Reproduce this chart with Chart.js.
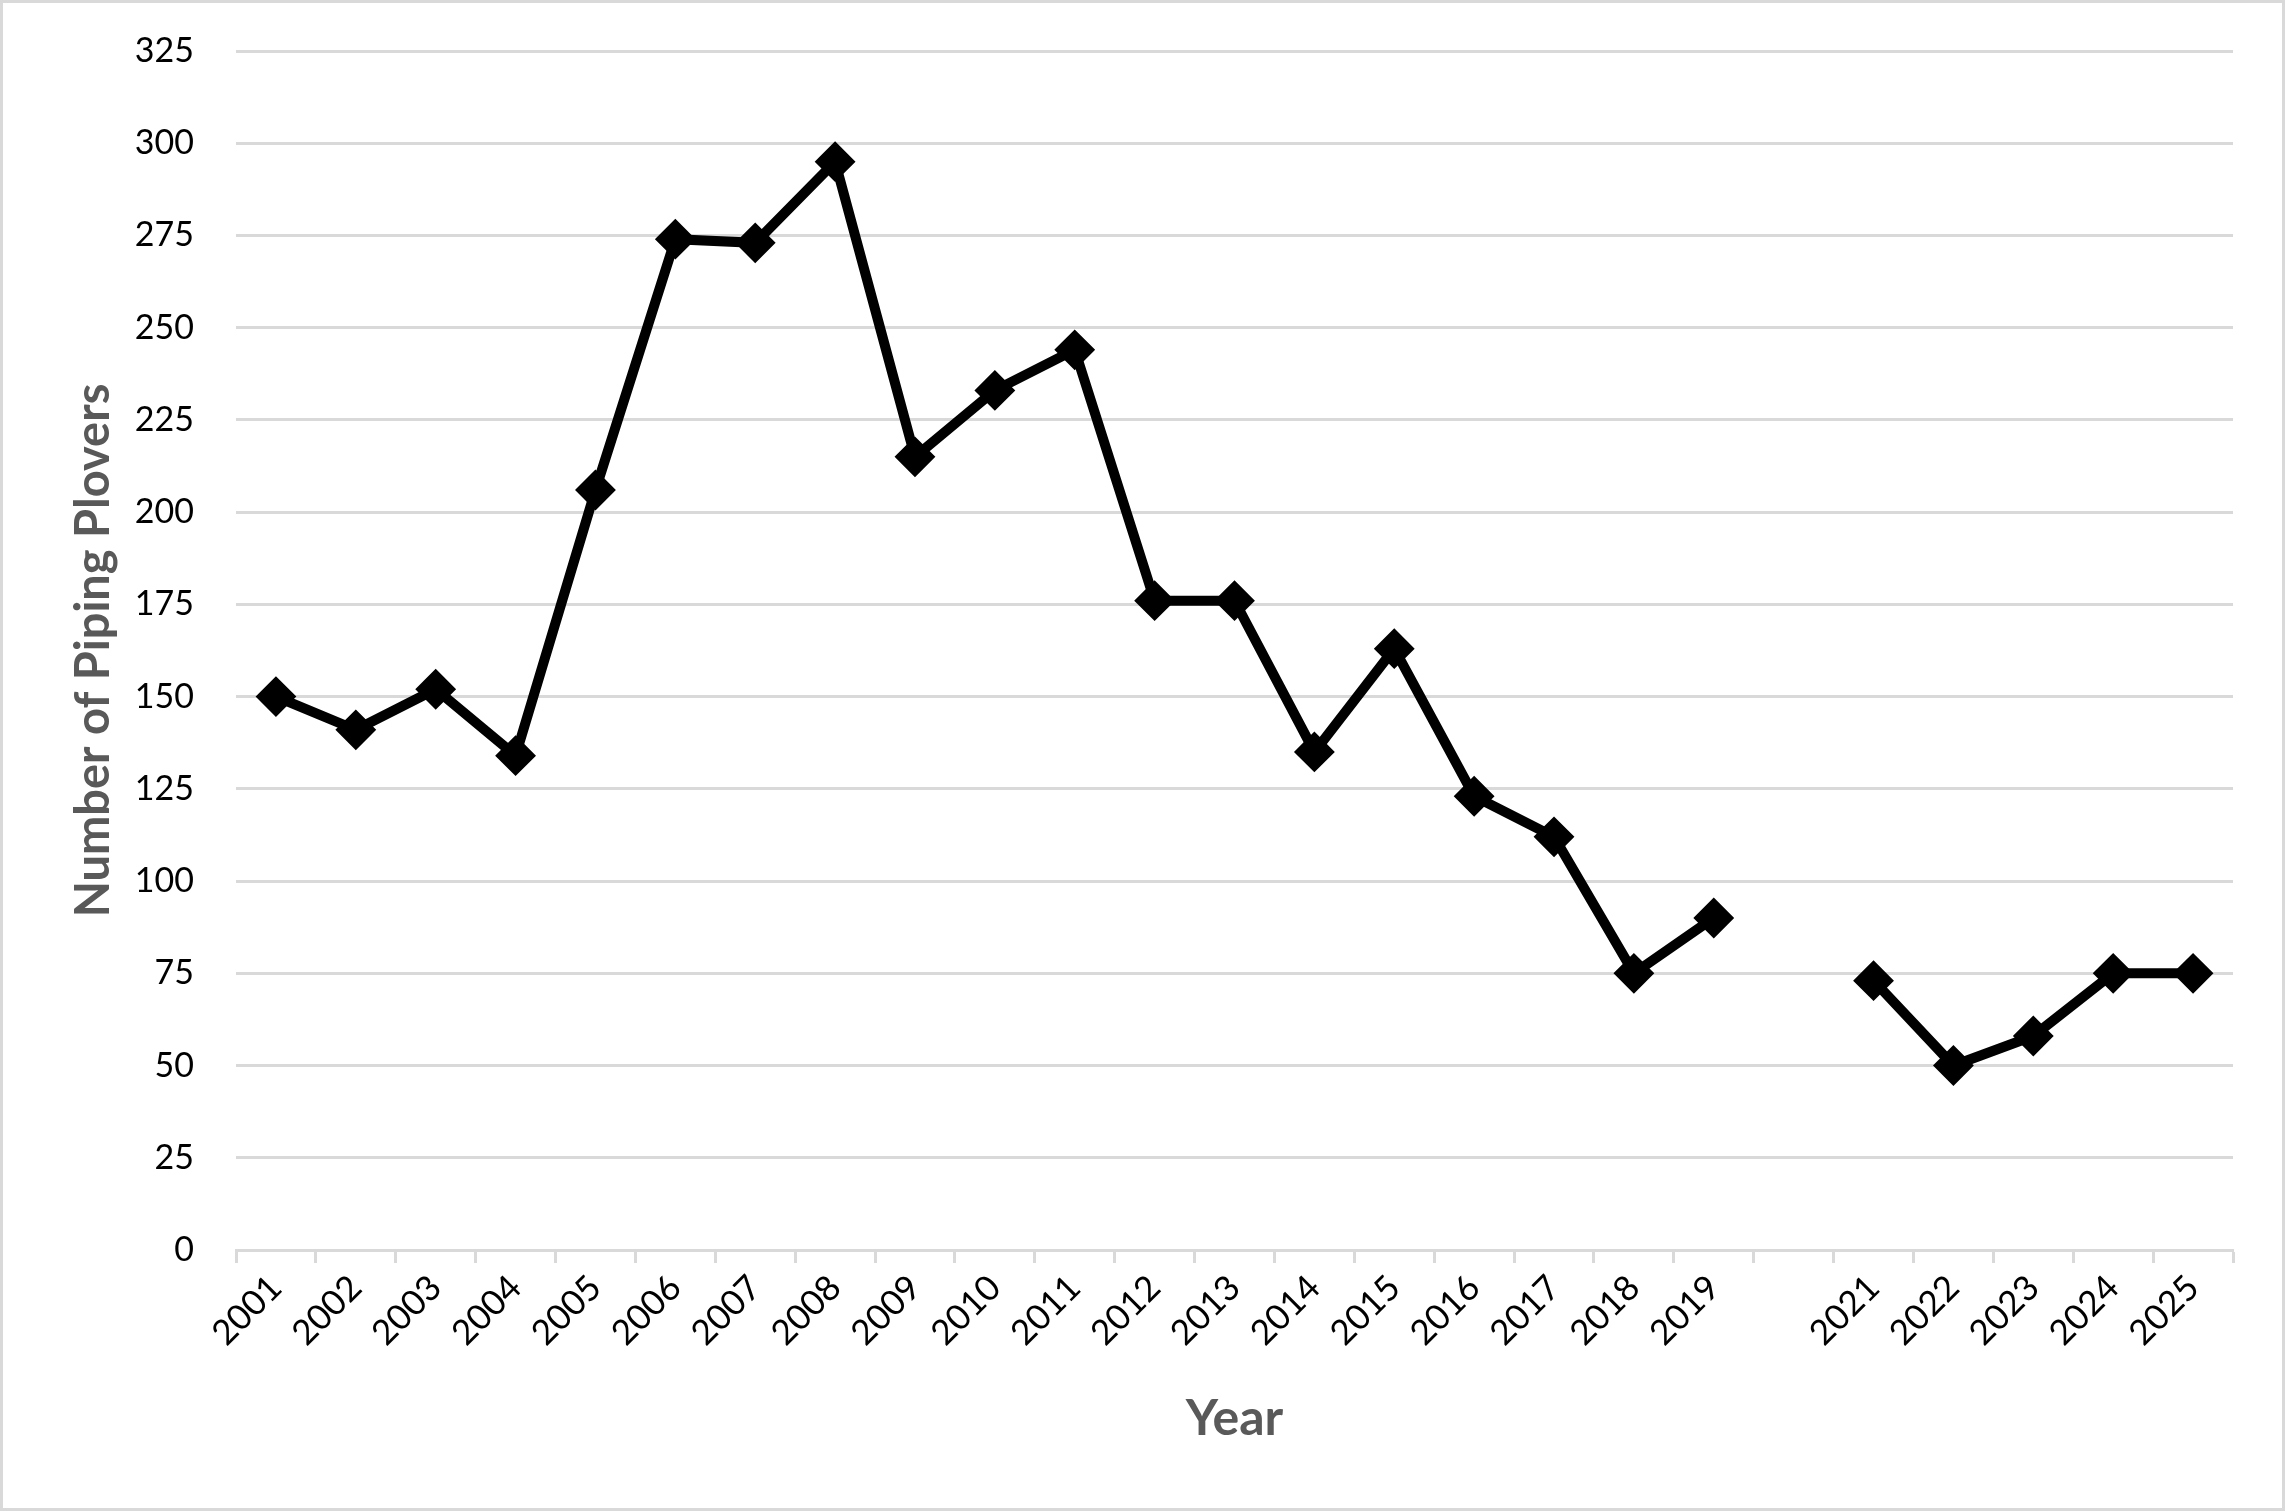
<!DOCTYPE html>
<html>
<head>
<meta charset="utf-8">
<script src="https://cdn.jsdelivr.net/npm/chart.js@4"></script>
<style>
  html, body { margin: 0; padding: 0; background: #fff; }
  #wrap { position: relative; width: 2285px; height: 1511px; }
  #frame { position: absolute; left: 0; top: 0; width: 2285px; height: 1511px; box-sizing: border-box; border: 3px solid #d9d9d9; pointer-events: none; }
</style>
</head>
<body>
<div id="wrap">
  <canvas id="plovers" width="2285" height="1511"></canvas>
  <div id="frame"></div>
</div>
<script>
const years = [
  "2001", "2002", "2003", "2004", "2005", "2006", "2007", "2008", "2009",
  "2010", "2011", "2012", "2013", "2014", "2015", "2016", "2017", "2018",
  "2019", "", "2021", "2022", "2023", "2024", "2025",
];

const plovers = [
  150, 141, 152, 134, 206, 274, 273, 295, 215, 233, 244, 176, 176, 135, 163,
  123, 112, 75, 90, null, 73, 50, 58, 75, 75,
];

const yTicks = [0, 25, 50, 75, 100, 125, 150, 175, 200, 225, 250, 275, 300, 325];

const gridGrey = "#d9d9d9";
const titleGrey = "#595959";

document.addEventListener("DOMContentLoaded", () => {
  const ctx = document.getElementById("plovers").getContext("2d");

  new Chart(ctx, {
    type: "line",
    data: {
      labels: years,
      datasets: [
        {
          label: "Number of Piping Plovers",
          data: plovers,
          borderColor: "#000",
          backgroundColor: "#000",
          borderWidth: 10,
          pointStyle: "rectRot",
          pointRadius: 19,
          pointBorderWidth: 2,
          pointBackgroundColor: "#000",
          pointBorderColor: "#000",
          spanGaps: false,
          tension: 0,
        },
      ],
    },
    options: {
      responsive: false,
      animation: false,
      layout: {
        padding: { left: 0, right: 52, top: 51, bottom: 0 },
      },
      plugins: {
        legend: { display: false },
        tooltip: { enabled: false },
      },
      scales: {
        x: {
          type: "category",
          offset: true,
          grid: {
            offset: true,
            drawOnChartArea: false,
            drawTicks: true,
            tickLength: 13,
            tickColor: gridGrey,
            tickWidth: 3,
          },
          border: { color: gridGrey, width: 3 },
          ticks: {
            autoSkip: false,
            maxRotation: 45,
            minRotation: 45,
            padding: 4,
            color: "#000",
            font: { family: "Lato", size: 35 },
          },
          title: {
            display: true,
            text: "Year",
            color: titleGrey,
            font: { family: "Lato", size: 50, weight: "bold" },
            padding: { top: 0, bottom: 62 },
          },
          afterFit: (scale) => {
            scale.height = 261;
          },
        },
        y: {
          min: 0,
          max: 325,
          afterBuildTicks: (scale) => {
            scale.ticks = yTicks.map((v) => ({ value: v }));
          },
          grid: {
            color: gridGrey,
            lineWidth: 3,
            drawTicks: false,
          },
          border: { display: false },
          ticks: {
            padding: 42,
            color: "#000",
            font: { family: "Lato", size: 34 },
          },
          title: {
            display: true,
            text: "Number of Piping Plovers",
            color: titleGrey,
            font: { family: "Lato", size: 47, weight: "bold" },
            padding: { top: 66, bottom: 0 },
          },
          afterFit: (scale) => {
            scale.width = 236;
            scale.paddingTop = 20;
            scale.paddingBottom = 20;
          },
        },
      },
    },
  });
});
</script>
</body>
</html>
